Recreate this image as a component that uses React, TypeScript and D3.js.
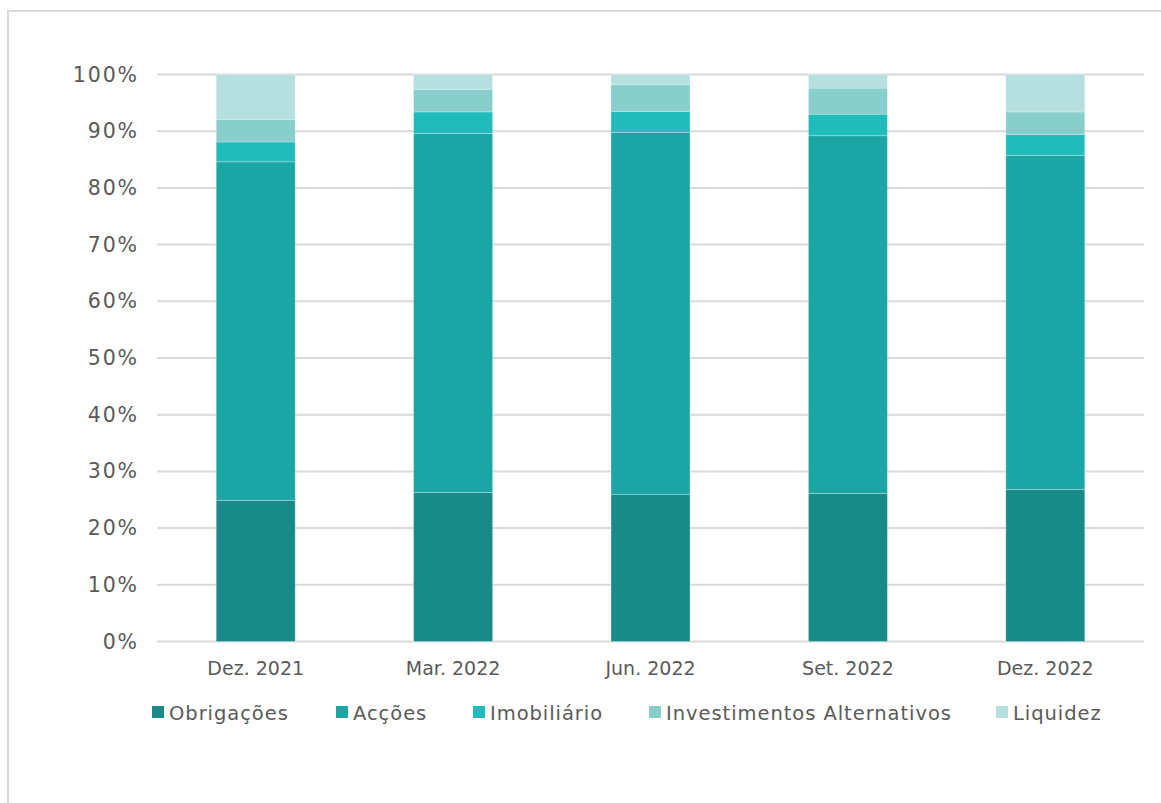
import React, { useEffect, useRef } from "react";
import * as d3 from "d3";

const categories = ["Dez. 2021", "Mar. 2022", "Jun. 2022", "Set. 2022", "Dez. 2022"];
const seriesNames = ["Obrigações", "Acções", "Imobiliário", "Investimentos Alternativos", "Liquidez"];
const obrigacoes = [24.9, 26.3, 25.9, 26.1, 26.8];
const accoes = [59.7, 63.3, 63.9, 63.1, 58.9];
const imobiliario = [3.5, 3.8, 3.7, 3.8, 3.7];
const alternativos = [4.0, 4.0, 4.7, 4.6, 4.0];
const liquidez = [7.9, 2.6, 1.8, 2.4, 6.6];
const yTicks = [0, 10, 20, 30, 40, 50, 60, 70, 80, 90, 100];
const colors = ["#188b89", "#1ca5a5", "#22bbbb", "#88cfcc", "#b6dfdf"];

const WIDTH = 1161;
const HEIGHT = 803;
const FONT = "'DejaVu Sans', sans-serif";
const TEXT = "#595959";

function drawChart(el: SVGSVGElement) {
  const svg = d3.select(el);
  svg.selectAll("*").remove();

  // outer frame (only top/left edges are visible)
  svg
    .append("rect")
    .attr("x", 8)
    .attr("y", 11)
    .attr("width", WIDTH + 20)
    .attr("height", HEIGHT + 20)
    .attr("fill", "white")
    .attr("stroke", "#d9d9d9")
    .attr("stroke-width", 2);

  const margin = { left: 157, right: 17, top: 74.5, bottom: 161.5 };
  const innerW = WIDTH - margin.left - margin.right;
  const innerH = HEIGHT - margin.top - margin.bottom;

  const g = svg.append("g").attr("transform", `translate(${margin.left},${margin.top})`);

  const x = d3.scaleBand().domain(categories).range([0, innerW]).paddingInner(0.6).paddingOuter(0.3);
  const y = d3.scaleLinear().domain([0, 100]).range([innerH, 0]);

  // gridlines
  g.append("g")
    .selectAll("line")
    .data(yTicks)
    .join("line")
    .attr("x1", 0)
    .attr("x2", innerW)
    .attr("y1", (d) => y(d))
    .attr("y2", (d) => y(d))
    .attr("stroke", "#d9d9d9")
    .attr("stroke-width", 2);

  // y axis labels
  const yAxis = g
    .append("g")
    .call(d3.axisLeft(y).tickValues(yTicks).tickSize(0).tickPadding(18).tickFormat((d) => `${d}%`));
  yAxis.select(".domain").remove();
  yAxis
    .selectAll("text")
    .attr("fill", TEXT)
    .attr("font-family", FONT)
    .attr("font-size", 20.5)
    .attr("letter-spacing", 1.9);

  // stacked bars
  const rows = categories.map((c, i) => ({
    cat: c,
    s0: obrigacoes[i],
    s1: accoes[i],
    s2: imobiliario[i],
    s3: alternativos[i],
    s4: liquidez[i],
  }));
  const stack = d3.stack<any>().keys(["s0", "s1", "s2", "s3", "s4"]);
  const layers = stack(rows);

  g.append("g")
    .selectAll("g")
    .data(layers)
    .join("g")
    .attr("fill", (_d, i) => colors[i])
    .selectAll("rect")
    .data((d) => d)
    .join("rect")
    .attr("x", (d: any) => x(d.data.cat) as number)
    .attr("width", x.bandwidth())
    .attr("y", (d) => y(d[1]))
    .attr("height", (d) => y(d[0]) - y(d[1]))
    .attr("stroke", "rgba(255,255,255,0.35)")
    .attr("stroke-width", 0.75);

  // x axis labels
  const xAxis = g
    .append("g")
    .attr("transform", `translate(0,${innerH})`)
    .call(d3.axisBottom(x).tickSize(0).tickPadding(20));
  xAxis.select(".domain").remove();
  xAxis
    .selectAll("text")
    .attr("fill", TEXT)
    .attr("font-family", FONT)
    .attr("font-size", 19);

  // legend
  const legendX = [152, 336, 473, 649, 996];
  const legend = svg
    .append("g")
    .selectAll("g")
    .data(seriesNames)
    .join("g")
    .attr("transform", (_d, i) => `translate(${legendX[i]},706)`);
  legend
    .append("rect")
    .attr("width", 12)
    .attr("height", 12)
    .attr("fill", (_d, i) => colors[i]);
  legend
    .append("text")
    .attr("x", 17)
    .attr("y", 13.5)
    .attr("fill", TEXT)
    .attr("font-family", FONT)
    .attr("font-size", 19.5)
    .attr("letter-spacing", 0.95)
    .text((d) => d);
}

export default function App() {
  const ref = useRef<SVGSVGElement>(null);
  useEffect(() => {
    if (ref.current) drawChart(ref.current);
  }, []);
  return (
    <svg
      ref={ref}
      width={WIDTH}
      height={HEIGHT}
      style={{ position: "absolute", left: 0, top: 0, background: "white" }}
    />
  );
}
